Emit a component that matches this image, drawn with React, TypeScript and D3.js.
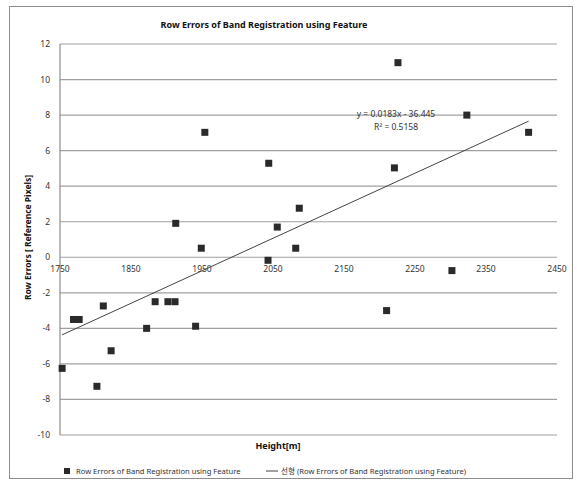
import * as d3 from 'd3';

// heights [m] and row errors [pixels]
const heights = [
  1753, 1769, 1777, 1802, 1811, 1822, 1872, 1884, 1902, 1912, 1913, 1941, 1949,
  1954, 2043, 2044, 2056, 2082, 2087, 2210, 2221, 2226, 2302, 2323, 2410,
];
const rowErrors = [
  -6.25, -3.5, -3.5, -7.26, -2.74, -5.26, -4.0, -2.5, -2.5, -2.5, 1.91, -3.88, 0.51,
  7.03, -0.17, 5.29, 1.7, 0.51, 2.76, -3.0, 5.03, 10.95, -0.75, 8.0, 7.03,
];
const xTicks = [1750, 1850, 1950, 2050, 2150, 2250, 2350, 2450];
const yTicks = [-10, -8, -6, -4, -2, 0, 2, 4, 6, 8, 10, 12];
const trendSlope = 0.0183;
const trendIntercept = -36.445;
const trendR2 = 0.5158;

const seriesName = 'Row Errors of Band Registration using Feature';

export default function App() {
  const width = 577;
  const height = 480;
  const plot = { left: 60, right: 557, top: 44, bottom: 435 };
  const font = '"Noto Sans", "Noto Sans CJK KR", sans-serif';

  const x = d3.scaleLinear().domain([1750, 2450]).range([plot.left, plot.right]);
  const y = d3.scaleLinear().domain([-10, 12]).range([plot.bottom, plot.top]);

  const [xMin, xMax] = d3.extent(heights) as [number, number];
  const trend = d3.line<number>()
    .x(d => x(d))
    .y(d => y(trendSlope * d + trendIntercept));

  const pts = heights.map((h, i) => ({ h, e: rowErrors[i] }));

  return (
    <div style={{ position: 'absolute', left: 0, top: 0 }}>
      <svg width={width} height={height} style={{ display: 'block' }} fontFamily={font}>
        <rect x={0} y={0} width={width} height={height} fill="#fff" />
        <rect x={9.5} y={6.5} width={563} height={472} fill="none" stroke="#8c8c8c" />

        <text x={264} y={28} textAnchor="middle" fontSize={9} fontWeight="bold" fill="#111">
          Row Errors of Band Registration using Feature
        </text>

        {/* grid */}
        {yTicks.map(t => (
          <g key={t}>
            <line x1={plot.left} x2={plot.right} y1={y(t)} y2={y(t)} stroke="#a0a0a0" strokeWidth={1.2} />
            <text x={50} y={y(t)} dy="0.35em" textAnchor="end" fontSize={8.5} fill="#333">
              {t}
            </text>
          </g>
        ))}
        <line x1={plot.left} x2={plot.left} y1={plot.top} y2={plot.bottom} stroke="#8c8c8c" strokeWidth={1.2} />

        {/* x labels sit under the zero line */}
        {xTicks.map(t => (
          <text key={t} x={x(t)} y={y(0) + 15} textAnchor="middle" fontSize={8.5} fill="#333">
            {t}
          </text>
        ))}

        {/* trend line */}
        <path d={trend([xMin, xMax]) ?? ''} fill="none" stroke="#444" strokeWidth={1} />
        <text x={396} y={117} textAnchor="middle" fontSize={8.5} fill="#333">
          {`y = ${trendSlope}x - ${Math.abs(trendIntercept)}`}
        </text>
        <text x={396} y={130} textAnchor="middle" fontSize={8.5} fill="#333">
          {`R² = ${trendR2}`}
        </text>

        {/* points */}
        {pts.map((p, i) => (
          <rect key={i} x={x(p.h) - 3.5} y={y(p.e) - 3.5} width={7} height={7} fill="#2a2a2a" />
        ))}

        {/* axis titles */}
        <text x={278} y={449} textAnchor="middle" fontSize={9} fontWeight="bold" fill="#111">
          Height[m]
        </text>
        <text
          transform={`translate(31,${(plot.top + plot.bottom) / 2 - 2}) rotate(-90)`}
          textAnchor="middle"
          fontSize={8.5}
          fontWeight="bold"
          fill="#111"
        >
          Row Errors [ Reference Pixels]
        </text>

        {/* legend */}
        <rect x={64} y={468} width={6} height={6} fill="#2a2a2a" />
        <text x={76} y={474} fontSize={7.6} fill="#333">{seriesName}</text>
        <line x1={266} x2={278} y1={471} y2={471} stroke="#444" />
        <text x={281} y={474} fontSize={7.6} fill="#333">{`선형 (${seriesName})`}</text>
      </svg>
    </div>
  );
}
